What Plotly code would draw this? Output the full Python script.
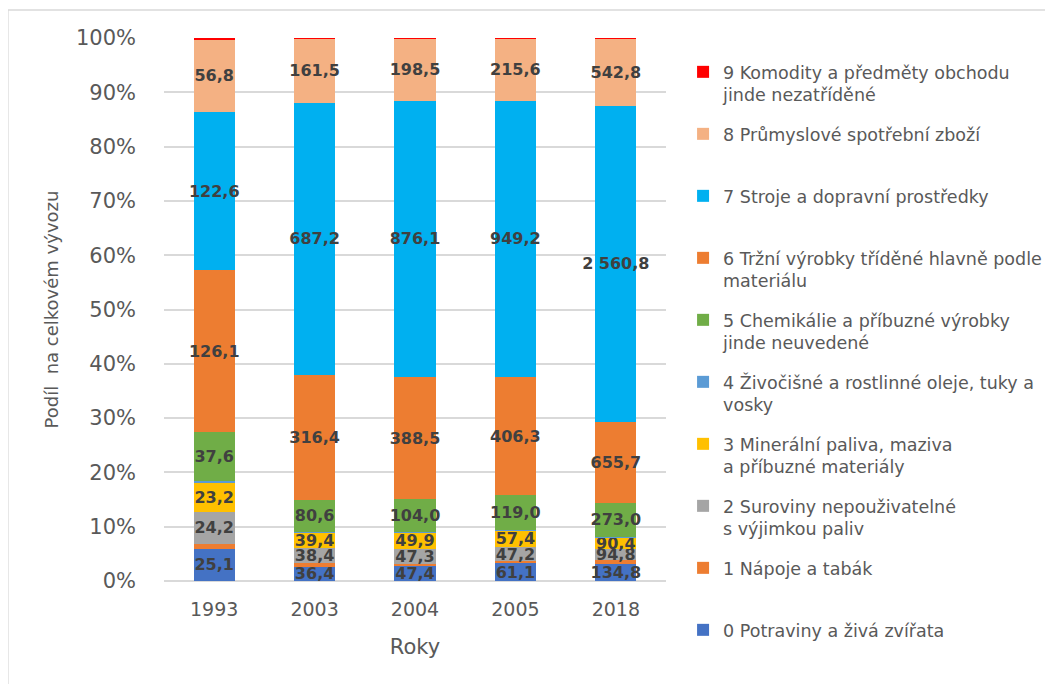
import plotly.graph_objects as go

# Czech exports by SITC class, selected years (values as labelled on the bars)
years = ["1993", "2003", "2004", "2005", "2018"]

potraviny = [25.1, 36.4, 47.4, 61.1, 134.8]          # 0
napoje = [4.0, 9.0, 8.0, 8.0, 32.0]                  # 1 (unlabelled, estimated)
suroviny = [24.2, 38.4, 47.3, 47.2, 94.8]            # 2
paliva = [23.2, 39.4, 49.9, 57.4, 90.4]              # 3
oleje = [1.5, 1.5, 2.0, 2.0, 8.0]                    # 4 (unlabelled, estimated)
chemikalie = [37.6, 80.6, 104.0, 119.0, 273.0]       # 5
trzni_vyrobky = [126.1, 316.4, 388.5, 406.3, 655.7]  # 6
stroje = [122.6, 687.2, 876.1, 949.2, 2560.8]        # 7
prumyslove = [56.8, 161.5, 198.5, 215.6, 542.8]      # 8
komodity = [0.8, 1.5, 0.3, 0.3, 8.0]                 # 9 (unlabelled, estimated)

SERIES = [
    ("0 Potraviny a živá zvířata", potraviny, "#4472C4", True),
    ("1 Nápoje a tabák", napoje, "#ED7D31", False),
    ("2 Suroviny nepouživatelné<br>s výjimkou paliv", suroviny, "#A5A5A5", True),
    ("3 Minerální paliva, maziva<br>a příbuzné materiály", paliva, "#FFC000", True),
    ("4 Živočišné a rostlinné oleje, tuky a<br>vosky", oleje, "#5B9BD5", False),
    ("5 Chemikálie a příbuzné výrobky<br>jinde neuvedené", chemikalie, "#70AD47", True),
    ("6 Tržní výrobky tříděné hlavně podle<br>materiálu", trzni_vyrobky, "#ED7D31", True),
    ("7 Stroje a dopravní prostředky", stroje, "#00B0F0", True),
    ("8 Průmyslové spotřební zboží", prumyslove, "#F4B183", True),
    ("9 Komodity a předměty obchodu<br>jinde nezatříděné", komodity, "#FF0000", False),
]

FONT = "DejaVu Sans"
TEXT_GREY = "#595959"


def cz_number(v):
    # 2560.8 -> "2 560,8"
    return f"{v:,.1f}".replace(",", " ").replace(".", ",")


fig = go.Figure()
for i, (name, vals, color, labelled) in enumerate(SERIES):
    # pad one-line legend entries (except the bottom one) to two lines,
    # so every item gets the same pitch
    legend_name = name if ("<br>" in name or i == 0) else name + "<br> "
    fig.add_trace(
        go.Bar(
            x=years,
            y=vals,
            name=legend_name,
            legendgroup=f"g{i}",
            legendrank=100 - i,  # 9 on top, 0 at the bottom
            marker=dict(color=color, line=dict(width=0)),
            text=[cz_number(v) for v in vals] if labelled else None,
            texttemplate="%{text}" if labelled else None,
            textposition="inside" if labelled else "none",
            insidetextanchor="middle",
            textangle=0,
            textfont=dict(family=FONT, size=16, color="#404040", weight="bold"),
            cliponaxis=False,
        )
    )

# the page body adds an 8px offset, so the figure is kept 8px smaller
fig.update_layout(
    width=1045,
    height=676,
    barmode="stack",
    barnorm="percent",
    bargap=0.59,
    paper_bgcolor="white",
    plot_bgcolor="white",
    font=dict(family=FONT, size=16, color=TEXT_GREY),
    margin=dict(l=156, r=387, t=30, b=103, autoexpand=False),
    uniformtext=dict(minsize=16, mode="show"),
    legend=dict(
        traceorder="grouped",
        xref="container",
        yref="container",
        x=0.646,
        xanchor="left",
        y=0.932,
        yanchor="top",
        valign="top",
        tracegroupgap=13.5,
        maxheight=900,
        font=dict(family=FONT, size=17.5, color=TEXT_GREY),
        bgcolor="rgba(0,0,0,0)",
    ),
    xaxis=dict(
        title=dict(text="Roky", font=dict(size=21, color=TEXT_GREY), standoff=20),
        tickfont=dict(size=19, color=TEXT_GREY),
        ticklabelstandoff=15,
        showgrid=False,
        showline=False,
        ticks="",
    ),
    yaxis=dict(
        title=dict(text="Podíl  na celkovém vývozu", font=dict(size=18, color=TEXT_GREY), standoff=12),
        range=[0, 100],
        dtick=10,
        ticksuffix="%",
        tickfont=dict(size=21, color=TEXT_GREY),
        showgrid=True,
        gridcolor="#D9D9D9",
        gridwidth=1.5,
        zeroline=True,
        zerolinecolor="#D9D9D9",
        zerolinewidth=1.5,
        showline=False,
        ticks="",
        ticklabelstandoff=27,
    ),
    shapes=[
        dict(
            type="rect", xref="paper", yref="paper",
            x0=-0.311, x1=1.78, y0=-0.25, y1=1.0516,
            line=dict(color="#D9D9D9", width=1.5),
            fillcolor="rgba(0,0,0,0)",
            layer="below",
        )
    ],
)

fig.write_html("out.html")
